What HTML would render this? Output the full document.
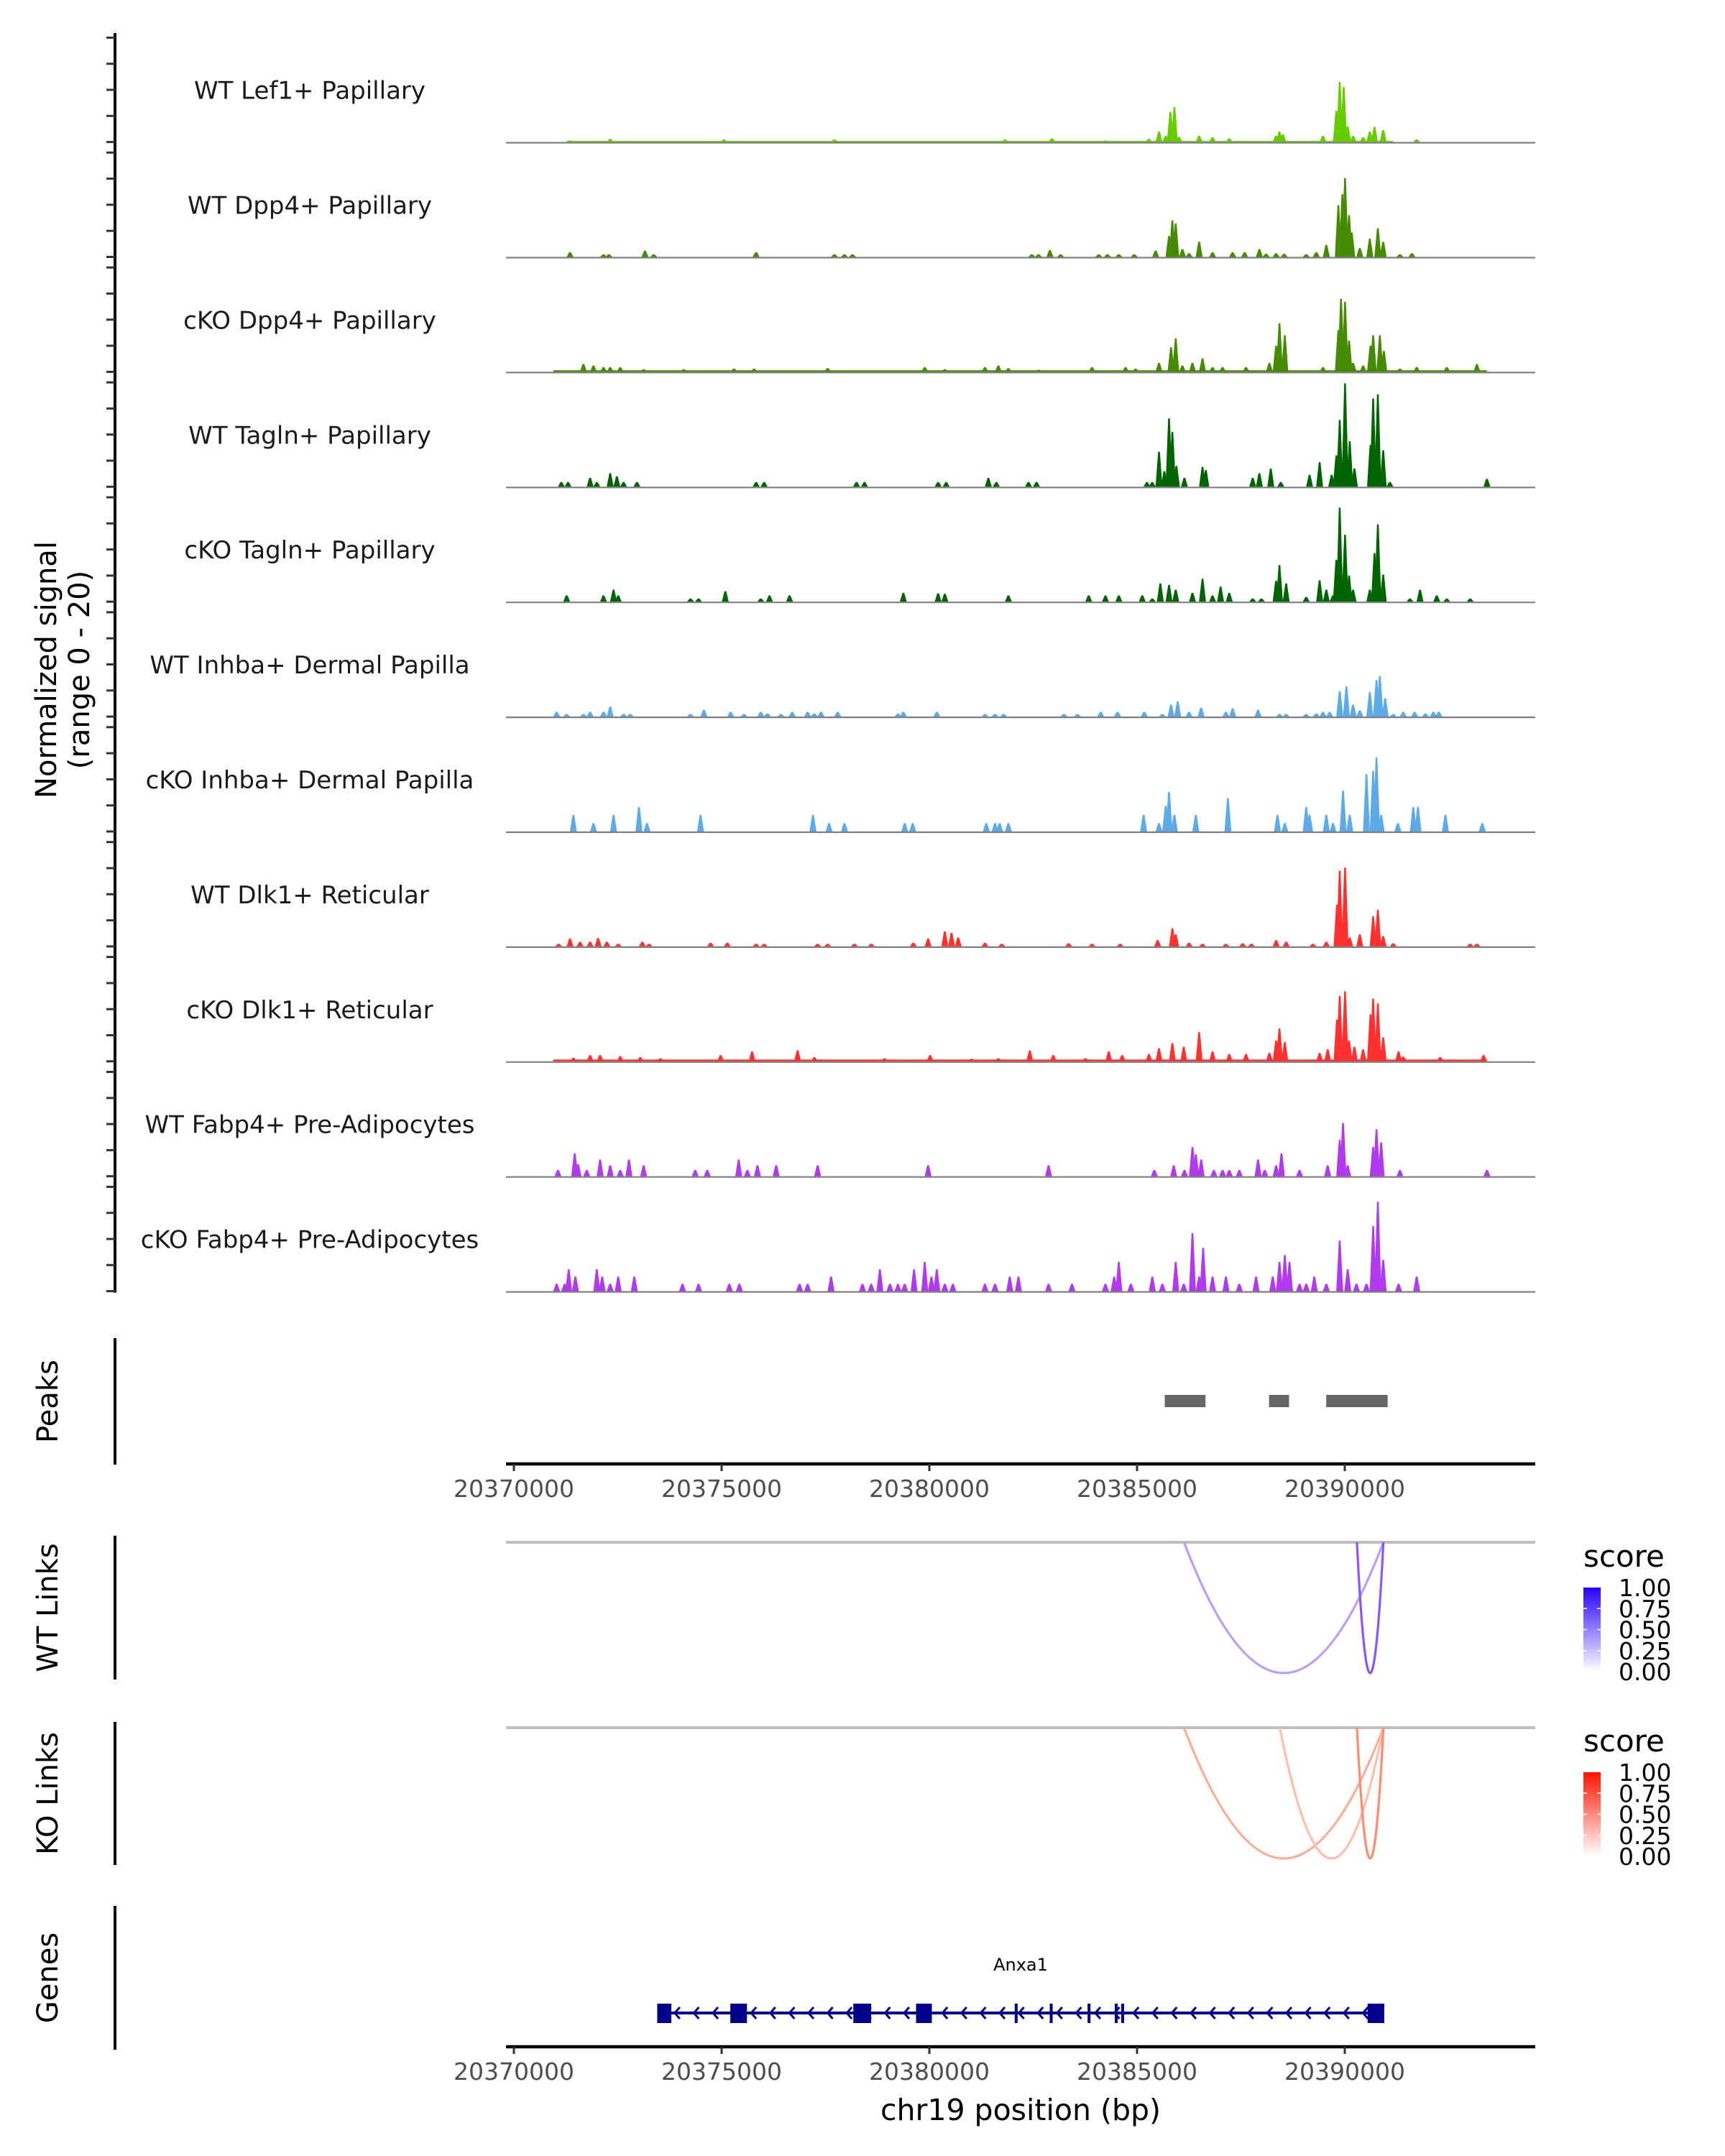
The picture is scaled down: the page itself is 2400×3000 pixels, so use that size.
<!DOCTYPE html>
<html><head><meta charset="utf-8"><style>
html,body{margin:0;padding:0;background:#fff;}
svg{display:block;font-family:"DejaVu Sans","Liberation Sans",sans-serif;}
</style></head><body>
<svg id="chart" width="2400" height="3000" viewBox="0 0 2400 3000"></svg>
<script>
// ---- data ----
const trackNames = ["WT Lef1+ Papillary","WT Dpp4+ Papillary","cKO Dpp4+ Papillary","WT Tagln+ Papillary","cKO Tagln+ Papillary","WT Inhba+ Dermal Papilla","cKO Inhba+ Dermal Papilla","WT Dlk1+ Reticular","cKO Dlk1+ Reticular","WT Fabp4+ Pre-Adipocytes","cKO Fabp4+ Pre-Adipocytes"];
const trackColors = ["#66cc00","#458b00","#458b00","#006400","#006400","#5caae8","#5caae8","#ff3030","#ff3030","#b23aee","#b23aee"];
// signal bins: [bin index (16.11 bp bins from 20369740), normalized signal]
const sigWtLef1 = [[100,0.3],[160,0.6],[330,0.5],[495,0.5],[750,0.5],[820,0.7],[900,0.3],[965,0.6],[980,2.0],[990,1.2],[997,5.8],[1003,6.7],[1010,1.0],[1040,1.2],[1060,0.9],[1085,0.7],[1155,1.2],[1160,2.0],[1165,1.5],[1225,1.2],[1245,6.0],[1250,11.5],[1256,10.5],[1262,3.0],[1270,1.2],[1285,0.9],[1295,2.0],[1302,2.9],[1315,2.3],[1365,0.5]];
const sigWtDpp4 = [[100,0.9],[150,0.5],[158,0.5],[212,1.2],[225,0.5],[378,0.9],[495,0.5],[510,0.5],[522,0.5],[790,0.5],[800,0.5],[817,1.3],[833,0.5],[890,0.5],[903,0.5],[920,0.5],[943,0.5],[975,1.2],[995,4.0],[1000,7.0],[1005,6.4],[1015,1.5],[1025,0.7],[1040,2.9],[1060,0.9],[1090,0.9],[1108,0.9],[1130,1.5],[1140,0.6],[1155,0.7],[1167,0.6],[1200,0.5],[1215,0.9],[1230,2.3],[1248,9.9],[1254,12],[1258,15.1],[1264,8],[1268,4.7],[1280,1.7],[1295,3.5],[1307,5.5],[1315,2.9],[1340,0.5],[1358,0.7]];
const sigKoDpp4 = [[80,0.3],[120,1.5],[135,1.2],[150,0.9],[160,0.9],[175,0.9],[210,0.5],[270,0.5],[345,0.6],[375,0.6],[485,0.7],[630,0.9],[660,0.5],[720,0.9],[740,1.2],[755,0.7],[800,0.4],[880,0.9],[930,0.9],[945,0.6],[980,1.7],[998,4.7],[1005,6.4],[1015,1.2],[1030,1.7],[1045,2.6],[1060,0.9],[1075,0.9],[1110,0.9],[1145,1.7],[1155,5],[1160,9.3],[1168,7.0],[1225,0.9],[1248,8],[1252,14],[1258,13.4],[1264,6],[1270,1.7],[1285,1.2],[1296,5],[1300,7.0],[1310,7.0],[1316,4],[1340,0.6],[1365,0.9],[1410,0.9],[1455,1.5]];
const sigWtTagln = [[87,0.9],[97,0.9],[130,1.7],[140,0.9],[160,2.6],[170,2.0],[180,0.9],[200,0.9],[378,0.9],[390,0.9],[528,0.9],[540,0.9],[650,0.9],[662,0.9],[725,1.7],[737,0.9],[785,0.9],[797,0.9],[962,0.9],[970,0.9],[980,6.7],[988,3],[995,13.1],[1000,10.5],[1006,4],[1018,1.7],[1045,3.8],[1050,3.2],[1120,1.7],[1130,2.6],[1147,3.5],[1162,0.9],[1205,2.3],[1220,4.7],[1238,2.3],[1245,6],[1250,12.8],[1258,19.8],[1265,8.7],[1272,3.5],[1296,8],[1300,16.9],[1307,17.7],[1315,7.0],[1325,0.9],[1470,1.5]];
const sigKoTagln = [[95,1.2],[150,1.2],[165,2.3],[172,1.2],[280,0.6],[292,0.6],[332,2.0],[385,0.6],[398,1.2],[428,1.2],[598,1.7],[650,1.6],[660,1.5],[755,1.2],[875,1.2],[900,1.2],[920,1.2],[955,1.2],[970,0.6],[982,3.5],[995,3.2],[1005,2.3],[1030,1.7],[1045,4.4],[1060,1.2],[1072,2.9],[1085,1.7],[1120,0.6],[1133,0.6],[1155,4],[1160,7.0],[1170,3.5],[1200,0.9],[1220,4.1],[1230,2.3],[1240,1.2],[1245,8],[1250,18.0],[1258,12.8],[1264,5],[1270,2.3],[1295,2.3],[1302,9.3],[1307,14.8],[1315,5.2],[1355,0.6],[1370,2.3],[1395,1.2],[1410,0.6],[1445,0.6]];
const sigWtInhba = [[80,0.9],[95,0.5],[120,0.5],[130,0.9],[150,0.9],[160,1.9],[180,0.5],[190,0.5],[280,0.5],[300,1.3],[340,0.9],[360,0.5],[385,0.9],[395,0.6],[415,0.5],[432,0.9],[455,0.9],[465,0.6],[475,0.9],[500,0.9],[590,0.6],[598,0.9],[648,0.9],[720,0.5],[735,0.5],[748,0.5],[838,0.5],[858,0.5],[893,0.9],[918,0.9],[958,0.9],[985,0.5],[998,2.3],[1008,2.9],[1025,0.9],[1043,1.7],[1080,0.9],[1090,1.6],[1128,1.3],[1160,0.5],[1170,0.5],[1200,0.5],[1215,0.6],[1225,0.9],[1235,0.9],[1250,4.9],[1260,5.8],[1270,2.3],[1280,1.2],[1295,4.7],[1305,7.0],[1310,7.8],[1318,3.5],[1330,0.5],[1345,0.9],[1362,0.9],[1378,0.6],[1390,0.9],[1398,0.9]];
const sigKoInhba = [[105,3.2],[135,1.6],[165,3.2],[203,4.7],[215,1.6],[295,3.2],[463,3.2],[487,1.6],[510,1.6],[600,1.6],[612,1.6],[722,1.6],[735,1.6],[742,1.6],[755,1.6],[957,3.2],[980,1.6],[990,4.9],[995,7.6],[1003,3.2],[1035,3.2],[1083,6.4],[1157,3.2],[1168,1.6],[1200,4.7],[1205,3.2],[1230,3.2],[1240,1.6],[1255,7.8],[1265,3.2],[1290,11.0],[1300,11.6],[1305,14.2],[1312,3.2],[1337,1.6],[1360,4.7],[1367,4.7],[1408,3.2],[1463,1.6]];
const sigWtDlk1 = [[83,0.5],[100,1.5],[115,0.9],[130,0.9],[142,1.6],[155,0.9],[172,0.5],[208,0.9],[218,0.5],[310,0.7],[335,0.7],[378,0.5],[390,0.5],[470,0.5],[485,0.5],[525,0.5],[550,0.5],[613,0.7],[635,1.5],[660,2.9],[670,2.6],[680,1.7],[720,0.7],[745,0.5],[845,0.6],[880,0.5],[922,0.5],[978,1.2],[1000,3.5],[1005,2.3],[1025,0.7],[1045,0.5],[1080,0.5],[1105,0.6],[1118,0.5],[1155,1.2],[1170,0.9],[1210,0.5],[1230,0.9],[1246,8],[1250,14.5],[1258,15.1],[1265,1.7],[1280,2.3],[1300,5.8],[1307,7.0],[1315,2.0],[1330,0.6],[1445,0.5],[1455,0.5]];
const sigKoDlk1 = [[105,0.7],[130,1.2],[145,1.2],[175,1.0],[205,0.8],[235,0.6],[325,1.2],[372,1.9],[440,2.1],[465,0.8],[570,0.6],[638,1.2],[700,0.5],[740,0.6],[787,2.1],[822,1.2],[870,0.6],[905,1.9],[925,1.2],[965,1.4],[980,2.5],[1000,3.5],[1017,2.8],[1040,5.6],[1060,1.9],[1085,1.4],[1110,1.4],[1145,1.6],[1155,4],[1160,6.3],[1168,3.7],[1220,1.6],[1232,2.3],[1246,8],[1250,12.5],[1258,13.4],[1264,4],[1272,2.8],[1285,2.3],[1296,9],[1300,12.0],[1307,11.1],[1315,4.6],[1338,1.9],[1345,0.9],[1400,0.8],[1465,1.2]];
const sigWtFabp4 = [[82,1.2],[107,4.4],[112,2.3],[125,1.2],[145,3.2],[160,2.1],[175,1.2],[188,3.2],[210,2.1],[287,1.2],[305,1.2],[352,3.2],[365,1.2],[380,2.1],[408,2.1],[470,2.1],[635,2.1],[815,2.1],[973,1.2],[1002,2.1],[1018,1.2],[1030,5.6],[1035,4.2],[1043,3.2],[1062,1.2],[1075,1.2],[1085,1.2],[1100,1.2],[1128,3.2],[1138,1.2],[1155,2.1],[1163,4.4],[1190,1.2],[1232,2.1],[1250,7],[1255,10.2],[1262,2.1],[1300,5.6],[1305,9.0],[1312,6.5],[1340,1.2],[1470,1.2]];
const sigKoFabp4 = [[80,1.4],[92,1.4],[98,4.2],[108,2.8],[140,4.2],[148,2.8],[160,1.4],[172,2.8],[196,2.8],[268,1.4],[292,1.4],[338,1.4],[353,1.4],[443,1.4],[455,1.4],[490,2.8],[537,1.4],[550,1.4],[563,4.2],[578,1.4],[590,1.4],[600,1.4],[614,4.2],[630,5.6],[640,2.8],[648,4.2],[660,1.4],[672,1.4],[720,1.4],[735,1.4],[757,2.8],[770,2.8],[815,1.4],[850,1.4],[900,1.4],[913,2.8],[920,5.6],[938,1.4],[970,2.8],[985,1.4],[1005,5.6],[1017,1.4],[1030,11.1],[1040,2.8],[1046,8.3],[1060,2.8],[1080,2.8],[1100,1.4],[1125,2.8],[1150,2.8],[1160,5.6],[1168,6.9],[1175,5.6],[1190,1.4],[1200,1.4],[1212,2.8],[1230,1.4],[1250,9.7],[1262,4.2],[1275,1.4],[1290,1.4],[1300,12.5],[1307,17.1],[1315,6.0],[1338,1.4],[1365,2.8]];
const trackSignals = [sigWtLef1,sigWtDpp4,sigKoDpp4,sigWtTagln,sigKoTagln,sigWtInhba,sigKoInhba,sigWtDlk1,sigKoDlk1,sigWtFabp4,sigKoFabp4];
// low background signal ranges [startBin, endBin, value]
const floorRanges = [[[95,1330,0.2]],[],[[75,1470,0.3]],[],[],[],[],[],[[75,1470,0.35]],[],[]];
const xTicks = [20370000,20375000,20380000,20385000,20390000];
const peakStarts = [20385666,20388177,20389553];
const peakEnds = [20386647,20388659,20391032];
const wtLinkStarts = [20386130,20390292];
const wtLinkEnds = [20390929,20390929];
const wtLinkScores = [0.42,0.72];
const koLinkStarts = [20386130,20388435,20390292];
const koLinkEnds = [20390929,20390929,20390929];
const koLinkScores = [0.45,0.35,0.62];
const legendTicks = ["1.00","0.75","0.50","0.25","0.00"];
const geneStart = 20373629, geneEnd = 20390740;
const exonStarts = [20373450,20375210,20378170,20379680,20390550,20382055,20382898,20383809,20384463,20384618];
const exonEnds   = [20373790,20375610,20378600,20380060,20390950,20382125,20382968,20383879,20384533,20384688];

// ---- scales ----
const NS="http://www.w3.org/2000/svg";
const svg=document.getElementById('chart');
const X0=715, PXBP=0.0578;
const xs = bp => X0 + (bp-20370000)*PXBP;
const binBp = b => 20369740 + b*16.11;
const PLOT_L=704, PLOT_R=2136;
const trackBase = i => 197.6 + i*159.9;
const UNIT=7.27;
function el(tag,attrs,parent){const e=document.createElementNS(NS,tag);for(const k in attrs)e.setAttribute(k,attrs[k]);(parent||svg).appendChild(e);return e;}
function txt(s,attrs,parent){const e=el('text',attrs,parent);e.textContent=s;return e;}

// y axis for tracks
const ax=el('g',{});


el('line',{x1:160,y1:46,x2:160,y2:trackBase(10)+2,stroke:'#000','stroke-width':4},ax);
for(let i=0;i<11;i++){for(let k=0;k<5;k++){const y=trackBase(i)-k*36.3;el('line',{x1:148,y1:y,x2:160,y2:y,stroke:'#333','stroke-width':3},ax);}}
const yt=txt('',{transform:'translate(0,932) rotate(-90)','text-anchor':'middle','font-size':40,fill:'#000'});


const t1=el('tspan',{x:0,y:78},yt);t1.textContent='Normalized signal';
const t2=el('tspan',{x:0,y:124},yt);t2.textContent='(range 0 - 20)';

// tracks
trackSignals.forEach((sig,i)=>{
  const g=el('g',{});
  
  
  const base=trackBase(i), col=trackColors[i];
  floorRanges[i].forEach(r=>{
    const f=el('rect',{x:xs(binBp(r[0])),y:base-r[2]*UNIT,width:xs(binBp(r[1]))-xs(binBp(r[0])),height:r[2]*UNIT,fill:col},g);
    
    
  });
  sig.forEach(([b,v])=>{
    const c=xs(binBp(b)), h=v*UNIT;
    const p=el('polygon',{points:`${c-4.8},${base} ${c-1.2},${base-h} ${c+1.2},${base-h} ${c+4.8},${base}`,fill:col},g);
    
    
  });
  const bl=el('line',{x1:PLOT_L,y1:base+1,x2:PLOT_R,y2:base+1,stroke:'#808080','stroke-width':2.2},g);
  
  
  const lb=txt(trackNames[i],{x:431,y:base-60,'text-anchor':'middle','font-size':34,fill:'#1a1a1a'},g);
  
  
});

// panel titles and axis lines
const panels=[["Peaks",1862,2038],["WT Links",2137,2337],["KO Links",2396,2595],["Genes",2652,2852]];
panels.forEach(p=>{
  const l=el('line',{x1:160,y1:p[1],x2:160,y2:p[2],stroke:'#000','stroke-width':4});
  
  
  const c=(p[1]+p[2])/2;
  const t=txt(p[0],{transform:`translate(80,${c}) rotate(-90)`,'text-anchor':'middle','font-size':40,fill:'#000'});
  
  
});

// peaks
peakStarts.forEach((s,i)=>{
  const r=el('rect',{x:xs(s),y:1941,width:xs(peakEnds[i])-xs(s),height:17,fill:'#666666'});
  
  
});

function xAxis(y,name){
  const g=el('g',{});
  
  
  el('line',{x1:PLOT_L,y1:y,x2:PLOT_R,y2:y,stroke:'#000','stroke-width':4.5},g);
  xTicks.forEach(t=>{
    el('line',{x1:xs(t),y1:y,x2:xs(t),y2:y+10,stroke:'#333','stroke-width':3},g);
    const l=txt(String(t),{x:xs(t),y:y+46,'text-anchor':'middle','font-size':33,fill:'#4d4d4d'},g);
    
    
  });
}
xAxis(2037,'peaks-x-axis');
xAxis(2848,'genes-x-axis');
const xt=txt('chr19 position (bp)',{x:1420,y:2950,'text-anchor':'middle','font-size':41,fill:'#000'});



// links
function mix(c,s){const r=Math.round(255+(c[0]-255)*s),g=Math.round(255+(c[1]-255)*s),b=Math.round(255+(c[2]-255)*s);return `rgb(${r},${g},${b})`;}
function links(y0,starts,ends,scores,rgb,name){
  const g=el('g',{});
  
  
  el('line',{x1:PLOT_L,y1:y0,x2:PLOT_R,y2:y0,stroke:'#bebebe','stroke-width':4},g);
  const depth=182;
  starts.forEach((s,i)=>{
    const a=xs(s),b=xs(ends[i]),c=y0+depth*2,m=(a+b)/2;
    const p=el('path',{d:`M${a},${y0} Q${m},${c} ${b},${y0}`,fill:'none',stroke:mix(rgb,scores[i]),'stroke-width':3.2},g);
    
    
  });
}
links(2146,wtLinkStarts,wtLinkEnds,wtLinkScores,[90,20,255],'wt-links');
links(2404,koLinkStarts,koLinkEnds,koLinkScores,[255,70,20],'ko-links');

// legends
const defs=el('defs',{});
function legend(titleY,top,rgb,id,name){
  const lg=el('linearGradient',{id:id,x1:0,y1:1,x2:0,y2:0},defs);
  el('stop',{offset:0,'stop-color':'#ffffff'},lg);
  el('stop',{offset:1,'stop-color':`rgb(${rgb.join(',')})`},lg);
  const g=el('g',{});
  
  
  txt('score',{x:2203,y:titleY,'font-size':42,fill:'#000'},g);
  const h=117;
  el('rect',{x:2203,y:top,width:24,height:h,fill:`url(#${id})`},g);
  legendTicks.forEach((t,k)=>{
    const y=top+k*h/4;
    if(k>0&&k<4){el('line',{x1:2203,y1:y,x2:2208,y2:y,stroke:'#fff','stroke-width':1.5},g);el('line',{x1:2222,y1:y,x2:2227,y2:y,stroke:'#fff','stroke-width':1.5},g);}
    const l=txt(t,{x:2252,y:y+12,'font-size':33,fill:'#000'},g);
    
    
  });
}
legend(2180,2209,[40,0,255],'gwt','wt-score-legend');
legend(2437,2466,[255,20,0],'gko','ko-score-legend');

// gene
const gg=el('g',{});


const GY=2801;
el('line',{x1:xs(geneStart),y1:GY,x2:xs(geneEnd),y2:GY,stroke:'#00008b','stroke-width':4},gg);
for(let x=xs(geneStart)+14;x<xs(geneEnd)-8;x+=26.6){
  el('polyline',{points:`${x+7},${GY-8} ${x},${GY} ${x+7},${GY+8}`,fill:'none',stroke:'#00008b','stroke-width':3},gg);
}
exonStarts.forEach((s,i)=>{
  const r=el('rect',{x:xs(s),y:2788,width:Math.max(3,xs(exonEnds[i])-xs(s)),height:27,fill:'#00008b'},gg);
  
  
});
const gl=txt('Anxa1',{x:1420,y:2742,'text-anchor':'middle','font-size':24,fill:'#000'});


</script>
</body></html>
